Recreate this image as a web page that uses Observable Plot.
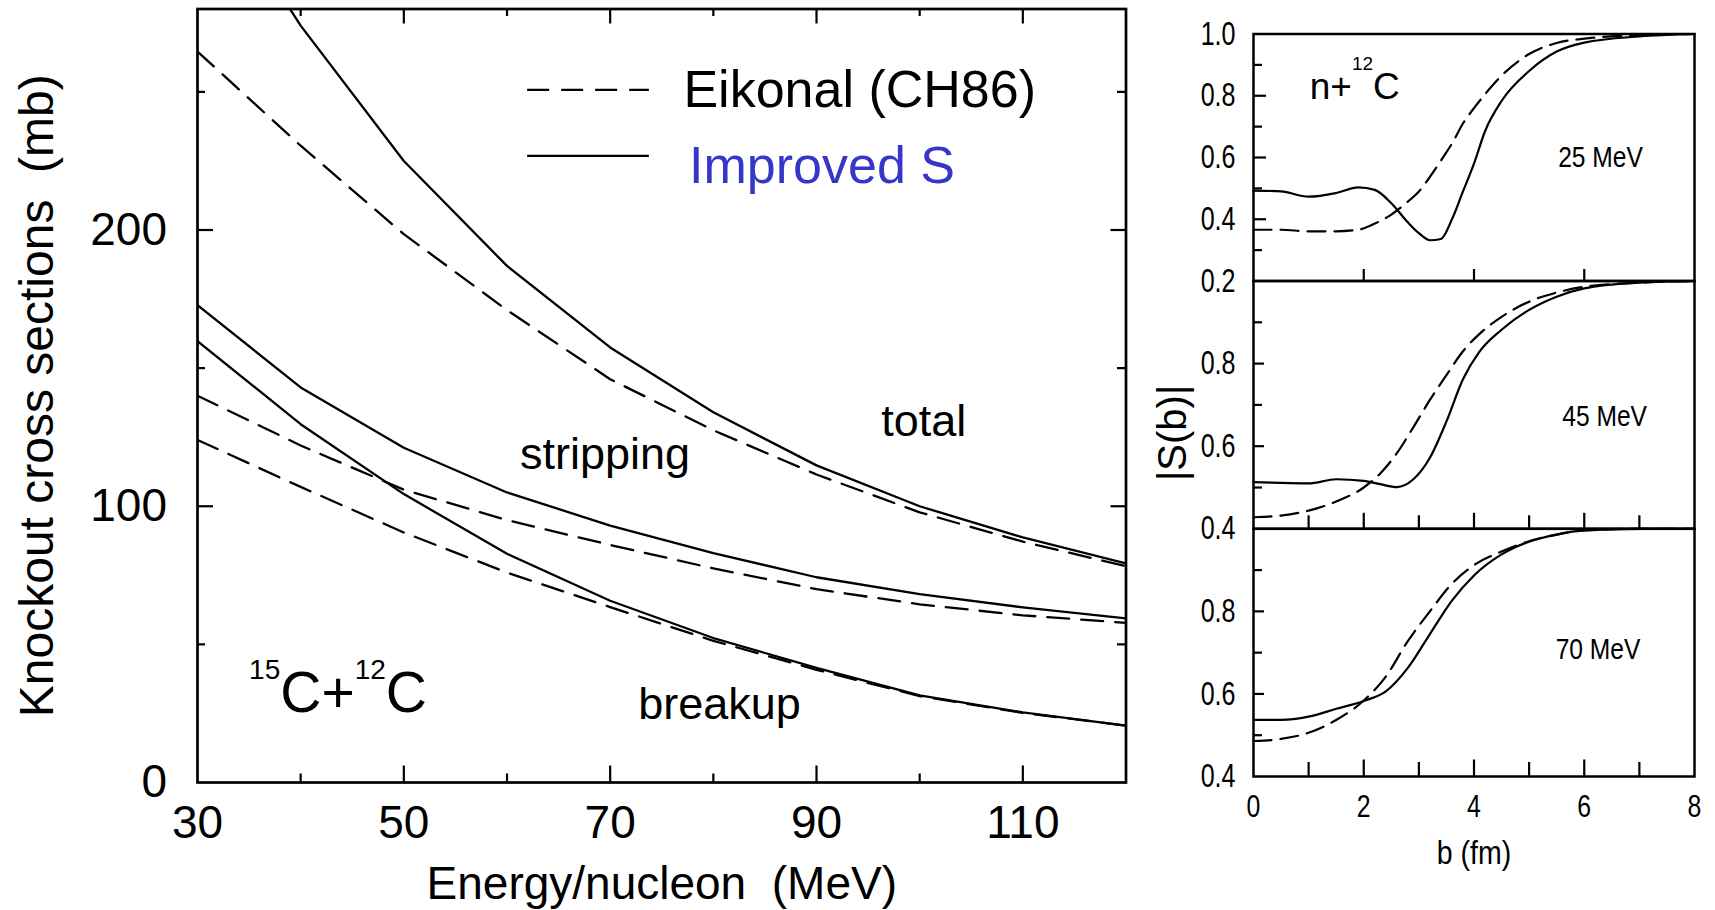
<!DOCTYPE html>
<html>
<head>
<meta charset="utf-8">
<script src="https://cdn.jsdelivr.net/npm/d3@7"></script>
<script src="https://cdn.jsdelivr.net/npm/@observablehq/plot@0.6"></script>
<style>
  html, body { margin: 0; padding: 0; background: #fff; }
  #fig { position: relative; width: 1715px; height: 910px; overflow: hidden; background: #fff; }
  #fig svg { position: absolute; top: 0; overflow: visible; }
</style>
</head>
<body>
<div id="fig"></div>
<script>
// ---- Knockout cross sections of 15C on 12C (mb) vs energy per nucleon (MeV)
const energy            = [30, 40, 50, 60, 70, 80, 90, 100, 110, 120];
const totalImproved     = [332, 274, 225, 187, 157.5, 134, 114.8, 100, 88.7, 79.3];
const totalEikonal      = [264.6, 230.5, 198.5, 171, 146, 127.5, 111.5, 97.8, 87.2, 78.3];
const strippingImproved = [172.8, 143, 121.2, 105, 93, 83, 74.3, 68.2, 63.4, 59.4];
const strippingEikonal  = [140, 122, 106, 95, 86, 77.5, 70, 64.5, 60.5, 57.8];
const breakupImproved   = [159.8, 129.7, 104.4, 82.8, 65.8, 52.3, 41.5, 31.5, 25.4, 20.6];
const breakupEikonal    = [124, 107, 90.5, 76, 63.5, 51.3, 40.8, 31.3, 25.2, 20.6];

const energyTicks = [30, 50, 70, 90, 110];
const sigmaTicks  = [0, 100, 200];

// ---- |S(b)| for n + 12C at three energies, b in fm
const b25         = [0, 0.5, 1, 1.5, 1.9, 2.2, 2.5, 2.8, 3.0, 3.2, 3.4, 3.6, 3.8, 4.0, 4.2, 4.5, 5.0, 5.5, 6.0, 7.0, 8.0];
const s25Improved = [0.493, 0.49, 0.473, 0.485, 0.503, 0.495, 0.452, 0.39, 0.355, 0.332, 0.336, 0.40, 0.49, 0.58, 0.685, 0.783, 0.88, 0.943, 0.972, 0.992, 1.0];
const s25Eikonal  = [0.366, 0.366, 0.361, 0.361, 0.366, 0.386, 0.415, 0.457, 0.49, 0.537, 0.59, 0.645, 0.71, 0.76, 0.805, 0.865, 0.935, 0.971, 0.985, 0.996, 1.0];

const b45         = [0, 0.5, 1, 1.5, 2, 2.3, 2.6, 2.9, 3.2, 3.5, 3.8, 4.1, 4.5, 5, 5.5, 6, 7, 8];
const s45Improved = [0.513, 0.511, 0.51, 0.52, 0.516, 0.508, 0.501, 0.52, 0.572, 0.66, 0.762, 0.829, 0.882, 0.93, 0.962, 0.982, 0.996, 1.0];
const s45Eikonal  = [0.428, 0.432, 0.444, 0.466, 0.5, 0.534, 0.583, 0.646, 0.712, 0.772, 0.83, 0.872, 0.913, 0.95, 0.972, 0.986, 0.996, 1.0];

const b70         = [0, 0.5, 1, 1.5, 2, 2.4, 2.8, 3.2, 3.6, 4, 4.5, 5, 5.5, 6, 7, 8];
const s70Improved = [0.537, 0.537, 0.545, 0.564, 0.583, 0.606, 0.663, 0.745, 0.826, 0.887, 0.938, 0.969, 0.986, 0.996, 1.0, 1.0];
const s70Eikonal  = [0.486, 0.491, 0.506, 0.537, 0.584, 0.642, 0.728, 0.8, 0.867, 0.912, 0.945, 0.97, 0.986, 0.996, 1.0, 1.0];

const impactTicks = [0, 2, 4, 6, 8];

const FONT = '"Liberation Sans", Arimo, Helvetica, Arial, sans-serif';
const DASH_L = "22,12";
const DASH_R = "18,9";
const BLUE = "#3636c8";

// ---------- helpers
function seriesRows(xs, ys, channel) {
  return xs.map((x, i) => ({x, y: ys[i], channel}));
}

function textsWith(svg, str) {
  return Array.from(svg.querySelectorAll("text")).filter((t) => t.textContent === str);
}

// squeeze glyphs horizontally (narrow sans look) about each label's anchor
function squeeze(el, k) {
  const tr = el.getAttribute("transform") || "";
  el.setAttribute("transform", `${tr} scale(${k},1)`);
}

// rebuild a label as tspans so that isotope mass numbers sit raised
function superscripts(svg, parts, supSize, rise) {
  const NS = "http://www.w3.org/2000/svg";
  const whole = parts.map((p) => p[0]).join("");
  for (const t of textsWith(svg, whole)) {
    t.textContent = "";
    let raised = false;
    for (const [s, sup] of parts) {
      const ts = document.createElementNS(NS, "tspan");
      ts.textContent = s;
      if (sup) {
        ts.setAttribute("font-size", supSize);
        if (!raised) ts.setAttribute("dy", -rise);
        raised = true;
      } else if (raised) {
        ts.setAttribute("dy", rise);
        raised = false;
      }
      t.appendChild(ts);
    }
  }
}

const fig = document.getElementById("fig");

// ---------- left: cross sections
{
  const W = 1150, H = 910;
  const M = {left: 197, right: 24.5, top: 8.5, bottom: 128};
  const fw = W - M.left - M.right, fh = H - M.top - M.bottom;

  const improvedRows = [
    ...seriesRows(energy, totalImproved, "total"),
    ...seriesRows(energy, strippingImproved, "stripping"),
    ...seriesRows(energy, breakupImproved, "breakup")
  ];
  const eikonalRows = [
    ...seriesRows(energy, totalEikonal, "total"),
    ...seriesRows(energy, strippingEikonal, "stripping"),
    ...seriesRows(energy, breakupEikonal, "breakup")
  ];

  const curveNotes = [
    {label: "total", x: 100.4, y: 125.6},
    {label: "stripping", x: 69.5, y: 113.6},
    {label: "breakup", x: 80.6, y: 23.1}
  ];

  const legendItems = [
    {label: "Eikonal (CH86)", dash: DASH_L, color: "black", lineY: 250.75, textX: 77.1, textY: 244.45},
    {label: "Improved S", dash: null, color: BLUE, lineY: 226.86, textX: 77.65, textY: 216.9}
  ];

  const svg = Plot.plot({
    width: W, height: H,
    marginLeft: M.left, marginRight: M.right, marginTop: M.top, marginBottom: M.bottom,
    style: {fontFamily: FONT, color: "black", background: "transparent"},
    x: {domain: [30, 120]},
    y: {domain: [0, 280]},
    marks: [
      Plot.line(improvedRows, {x: "x", y: "y", z: "channel", stroke: "black", strokeWidth: 2.3, clip: true}),
      Plot.line(eikonalRows, {x: "x", y: "y", z: "channel", stroke: "black", strokeWidth: 2.3, strokeDasharray: DASH_L, clip: true}),

      // inward ticks on all four sides
      Plot.tickX([50, 70, 90, 110], {insetTop: fh - 16.5, strokeWidth: 2.2}),
      Plot.tickX([40, 60, 80, 100], {insetTop: fh - 8.5, strokeWidth: 2.2}),
      Plot.tickX([50, 70, 90, 110], {insetBottom: fh - 15, strokeWidth: 2.2}),
      Plot.tickX([40, 60, 80, 100], {insetBottom: fh - 7.5, strokeWidth: 2.2}),
      Plot.tickY([100, 200], {insetRight: fw - 16, strokeWidth: 2.2}),
      Plot.tickY([50, 150, 250], {insetRight: fw - 8, strokeWidth: 2.2}),
      Plot.tickY([100, 200], {insetLeft: fw - 15, strokeWidth: 2.2}),
      Plot.tickY([50, 150, 250], {insetLeft: fw - 8.5, strokeWidth: 2.2}),
      Plot.frame({stroke: "black", strokeWidth: 2.7}),

      Plot.axisX({ticks: energyTicks, tickSize: 0, tickPadding: 23, fontSize: 46, label: null}),
      Plot.axisY({ticks: sigmaTicks, tickSize: 0, tickPadding: 30.5, fontSize: 46, label: null}),

      Plot.text(["Energy/nucleon  (MeV)"], {frameAnchor: "bottom", dy: 116, textAnchor: "middle", lineAnchor: "bottom", fontSize: 46}),
      Plot.text(["Knockout cross sections  (mb)"], {frameAnchor: "left", dx: -145, rotate: -90, textAnchor: "middle", lineAnchor: "bottom", fontSize: 48}),

      Plot.text(curveNotes, {x: "x", y: "y", text: "label", fontSize: 45, lineAnchor: "bottom"}),
      Plot.text(["15C+12C"], {x: 35.0, y: 25.4, textAnchor: "start", lineAnchor: "bottom", fontSize: 57}),

      // legend
      ...legendItems.map((d) => Plot.ruleY([d.lineY], {x1: 62.0, x2: 73.8, stroke: "black", strokeWidth: 2.3, strokeDasharray: d.dash})),
      Plot.text(legendItems, {x: "textX", y: "textY", text: "label", fill: "color", textAnchor: "start", lineAnchor: "bottom", fontSize: 52})
    ]
  });
  svg.style.left = "0px";
  superscripts(svg, [["15", true], ["C+", false], ["12", true], ["C", false]], 28, 33);
  fig.appendChild(svg);
}

// ---------- right: |S(b)| panels
const RX = {left: 1140, width: 575, x0: 1253, x1: 1694};

function sPanel(cfg) {
  const H = 910;
  const marginLeft = RX.x0 - RX.left;
  const marginRight = RX.left + RX.width - RX.x1;
  const fw = RX.x1 - RX.x0, fh = cfg.bottom - cfg.top;
  const svg = Plot.plot({
    width: RX.width, height: H,
    marginLeft, marginRight, marginTop: cfg.top, marginBottom: H - cfg.bottom,
    style: {fontFamily: FONT, color: "black", background: "transparent"},
    x: {domain: [0, 8]},
    y: {domain: cfg.yDomain},
    marks: [
      Plot.line(seriesRows(cfg.b, cfg.improved, "improved"), {x: "x", y: "y", curve: "monotone-x", stroke: "black", strokeWidth: 2.2}),
      Plot.line(seriesRows(cfg.b, cfg.eikonal, "eikonal"), {x: "x", y: "y", curve: "monotone-x", stroke: "black", strokeWidth: 2.2, strokeDasharray: DASH_R}),
      Plot.tickY(cfg.yMajor, {insetRight: fw - cfg.yMajorLen, strokeWidth: 2.2}),
      Plot.tickY(cfg.yMinor, {insetRight: fw - cfg.yMinorLen, strokeWidth: 2.2}),
      Plot.tickX(cfg.xMajor, {insetTop: fh - cfg.xMajorLen, strokeWidth: 2.2}),
      Plot.tickX(cfg.xMinor, {insetTop: fh - cfg.xMinorLen, strokeWidth: 2.2}),
      Plot.frame({stroke: "black", strokeWidth: 2.5}),
      Plot.axisY({ticks: cfg.yLabels, tickFormat: ".1f", tickSize: 0, tickPadding: 18, fontSize: 33, label: null}),
      Plot.axisX({ticks: cfg.xLabels, tickSize: 0, tickPadding: 18, fontSize: 31, label: null}),
      Plot.text([cfg.energyLabel], {x: cfg.note[0], y: cfg.note[1], fontSize: 30, textAnchor: "middle", lineAnchor: "bottom"}),
      ...(cfg.extra || [])
    ]
  });
  svg.style.left = RX.left + "px";
  svg.querySelectorAll('g[aria-label="y-axis tick label"] text').forEach((t) => squeeze(t, 0.76));
  svg.querySelectorAll('g[aria-label="x-axis tick label"] text').forEach((t) => squeeze(t, 0.8));
  textsWith(svg, cfg.energyLabel).forEach((t) => squeeze(t, 0.82));
  textsWith(svg, "b (fm)").forEach((t) => squeeze(t, 0.84));
  if (cfg.after) cfg.after(svg);
  fig.appendChild(svg);
}

sPanel({
  b: b25, improved: s25Improved, eikonal: s25Eikonal,
  yDomain: [0.2, 1.0], top: 33.5, bottom: 280.5,
  yLabels: [0.2, 0.4, 0.6, 0.8, 1.0],
  yMajor: [0.4, 0.6, 0.8], yMajorLen: 13, yMinor: [0.3, 0.5, 0.7, 0.9], yMinorLen: 9,
  xMajor: [2, 4, 6], xMajorLen: 11.5, xMinor: [], xMinorLen: 0,
  xLabels: [],
  energyLabel: "25 MeV", note: [6.295, 0.569],
  extra: [
    Plot.text(["n+12C"], {x: 1.02, y: 0.79, textAnchor: "start", lineAnchor: "bottom", fontSize: 37})
  ],
  after: (svg) => superscripts(svg, [["n+", false], ["12", true], ["C", false]], 19, 29)
});

sPanel({
  b: b45, improved: s45Improved, eikonal: s45Eikonal,
  yDomain: [0.4, 1.0], top: 280.5, bottom: 528.3,
  yLabels: [0.4, 0.6, 0.8],
  yMajor: [0.6, 0.8], yMajorLen: 11, yMinor: [0.5, 0.7, 0.9], yMinorLen: 9,
  xMajor: [2, 4, 6], xMajorLen: 15.5, xMinor: [1, 3, 5, 7], xMinorLen: 13,
  xLabels: [],
  energyLabel: "45 MeV", note: [6.37, 0.648],
  extra: [
    Plot.text(["|S(b)|"], {frameAnchor: "left", dx: -80, dy: 28, rotate: -90, textAnchor: "middle", lineAnchor: "middle", fontSize: 40})
  ]
});

sPanel({
  b: b70, improved: s70Improved, eikonal: s70Eikonal,
  yDomain: [0.4, 1.0], top: 528.3, bottom: 776,
  yLabels: [0.4, 0.6, 0.8],
  yMajor: [0.6, 0.8], yMajorLen: 11, yMinor: [0.5, 0.7, 0.9], yMinorLen: 9,
  xMajor: [2, 4, 6], xMajorLen: 16.5, xMinor: [1, 3, 5, 7], xMinorLen: 14,
  xLabels: impactTicks,
  energyLabel: "70 MeV", note: [6.25, 0.685],
  extra: [
    Plot.text(["b (fm)"], {frameAnchor: "bottom", dy: 87, textAnchor: "middle", lineAnchor: "bottom", fontSize: 34})
  ]
});
</script>
</body>
</html>
